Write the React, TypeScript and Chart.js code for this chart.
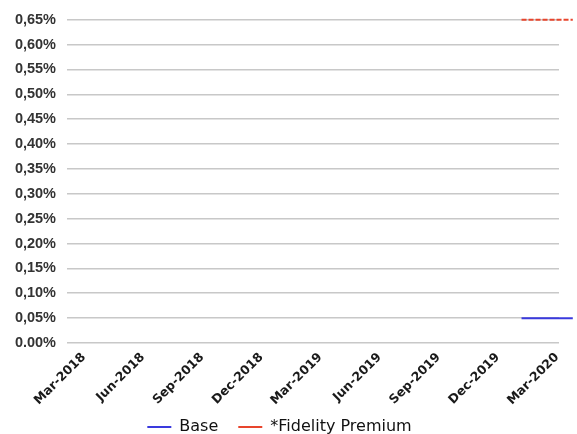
import { useEffect, useRef } from 'react';
import { Chart, registerables } from 'chart.js';

Chart.register(...registerables);

// X axis: months counted from Mar-2018 (0) ; labelled every quarter
const tickMonths = [0, 3, 6, 9, 12, 15, 18, 21, 24];
const monthLabels = ['Mar-2018', 'Jun-2018', 'Sep-2018', 'Dec-2018', 'Mar-2019', 'Jun-2019', 'Sep-2019', 'Dec-2019', 'Mar-2020'];

// Y axis ticks (percent)
const yTickValues = [0, 0.05, 0.1, 0.15, 0.2, 0.25, 0.3, 0.35, 0.4, 0.45, 0.5, 0.55, 0.6, 0.65];
const yTickLabels = ['0.00%', '0,05%', '0,10%', '0,15%', '0,20%', '0,25%', '0,30%', '0,35%', '0,40%', '0,45%', '0,50%', '0,55%', '0,60%', '0,65%'];

// Series (x in months since Mar-2018, y in percent)
const seriesMonths = [22.2, 24.8];
const baseValues = [0.05, 0.05];
const premiumValues = [0.65, 0.65];

const LEGEND_CENTER_Y = 427;

const legendPlacer = {
  id: 'legendPlacer',
  afterLayout(chart: any) {
    const lg = chart.legend;
    if (!lg) return;
    const pad = lg.options.labels.padding;
    const fs = 16;
    const h = lg.height;
    lg.top = LEGEND_CENTER_Y - pad - fs / 2;
    lg.bottom = lg.top + h;
  },
};

export default function App() {
  const canvasRef = useRef<HTMLCanvasElement | null>(null);

  useEffect(() => {
    document.body.style.margin = '0';
    const canvas = canvasRef.current;
    if (!canvas) return;
    const chart = new Chart(canvas, {
      type: 'line',
      plugins: [legendPlacer],
      data: {
        datasets: [
          {
            label: 'Base',
            data: seriesMonths.map((m, i) => ({ x: m, y: baseValues[i] })),
            borderColor: '#3a3ade',
            backgroundColor: '#3a3ade',
            borderWidth: 2,
            pointRadius: 0,
            clip: false as any,
          },
          {
            label: '*Fidelity Premium',
            data: seriesMonths.map((m, i) => ({ x: m, y: premiumValues[i] })),
            borderColor: '#e8452d',
            backgroundColor: '#e8452d',
            borderWidth: 2,
            borderDash: [5, 2],
            pointRadius: 0,
            clip: false as any,
          },
        ],
      },
      options: {
        animation: false,
        responsive: true,
        maintainAspectRatio: false,
        layout: { padding: { top: 19, right: 18, left: 0, bottom: -30 } },
        plugins: {
          tooltip: { enabled: false },
          legend: {
            position: 'bottom',
            labels: {
              usePointStyle: true,
              pointStyle: 'line',
              pointStyleWidth: 24,
              boxWidth: 24,
              padding: 20,
              color: '#111',
              font: { family: 'DejaVu Sans', size: 16 },
            },
          },
        },
        scales: {
          x: {
            type: 'linear',
            min: -0.85,
            max: 24.1,
            grid: { display: false, drawTicks: false },
            border: { display: false },
            afterBuildTicks: (scale: any) => {
              scale.ticks = tickMonths.map((v) => ({ value: v }));
            },
            afterFit: (scale: any) => {
              scale.height = 75;
            },
            ticks: {
              autoSkip: false,
              minRotation: 45,
              maxRotation: 45,
              padding: 7,
              color: '#1a1a1a',
              font: { family: 'DejaVu Sans', size: 12.5, weight: 'bold' },
              callback: (_v: any, i: number) => monthLabels[i],
            },
          },
          y: {
            min: 0,
            max: 0.65,
            grid: { color: '#c8c8c8', lineWidth: 1.6, drawTicks: false },
            border: { display: false },
            afterFit: (scale: any) => {
              scale.width = 67;
            },
            afterBuildTicks: (scale: any) => {
              scale.ticks = yTickValues.map((v) => ({ value: v }));
            },
            ticks: {
              padding: 11,
              color: '#333',
              font: { family: 'Liberation Sans', size: 14.5, weight: 'bold' },
              callback: (_v: any, i: number) => yTickLabels[i],
            },
          },
        },
      },
    });
    return () => chart.destroy();
  }, []);

  return (
    <div style={{ width: 577, height: 434, position: 'relative' }}>
      <canvas ref={canvasRef} />
    </div>
  );
}
